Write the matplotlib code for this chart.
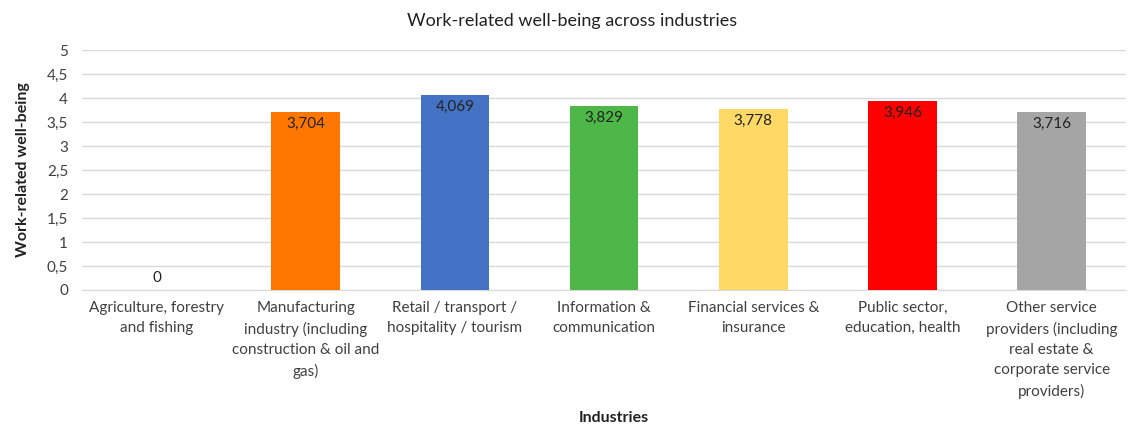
import numpy as np
import matplotlib.pyplot as plt

plt.rcParams['font.family'] = ['Lato', 'DejaVu Sans']

industries = [
    'Agriculture, forestry\nand fishing',
    'Manufacturing\nindustry (including\nconstruction & oil and\ngas)',
    'Retail / transport /\nhospitality / tourism',
    'Information &\ncommunication',
    'Financial services &\ninsurance',
    'Public sector,\neducation, health',
    'Other service\nproviders (including\nreal estate &\ncorporate service\nproviders)',
]
wellbeing = [0, 3.704, 4.069, 3.829, 3.778, 3.946, 3.716]
colors = ['#5b9bd5', '#ff7700', '#4472c4', '#4db848', '#ffd966', '#ff0000', '#a5a5a5']
yticks = [0, 0.5, 1, 1.5, 2, 2.5, 3, 3.5, 4, 4.5, 5]

text_col = '#404040'

fig = plt.figure(figsize=(11.45, 4.3), dpi=100)
ax = fig.add_axes([0.0716, 0.3256, 0.912, 0.558])

x = np.arange(len(industries))
bars = ax.bar(x, wellbeing, width=0.46, color=colors, zorder=3)

# value labels just inside the top of each bar, decimal comma
for xi, v in zip(x, wellbeing):
    lbl = '0' if v == 0 else f'{v:.3f}'.replace('.', ',')
    y = v + 0.4 if v == 0 else v - 0.1
    ax.text(xi, y, lbl, ha='center', va='top', fontsize=11, color='#222222', zorder=4)

ax.set_ylim(0, 5)
ax.set_xlim(-0.5, len(industries) - 0.5)
ax.set_yticks(yticks)
ax.set_yticklabels([('%g' % t).replace('.', ',') for t in yticks])
ax.set_xticks(x)
ax.set_xticklabels(industries, fontsize=11, color=text_col, linespacing=1.55)
ax.tick_params(axis='y', labelsize=11, labelcolor=text_col, length=0, pad=10)
ax.tick_params(axis='x', length=0, pad=8)

ax.grid(axis='y', color='#d9d9d9', linewidth=1, zorder=0)
for s in ['top', 'right', 'left']:
    ax.spines[s].set_visible(False)
ax.spines['bottom'].set_color('#d9d9d9')

ax.set_ylabel('Work-related well-being', fontsize=11.5, fontweight='bold', color='#222222', labelpad=12)
fig.text(0.536, 0.018, 'Industries', ha='center', fontsize=11.5, fontweight='bold', color='#222222')
fig.text(0.5, 0.94, 'Work-related well-being across industries', ha='center', fontsize=13, color='#222222')

fig.savefig('out.png', dpi=100)
